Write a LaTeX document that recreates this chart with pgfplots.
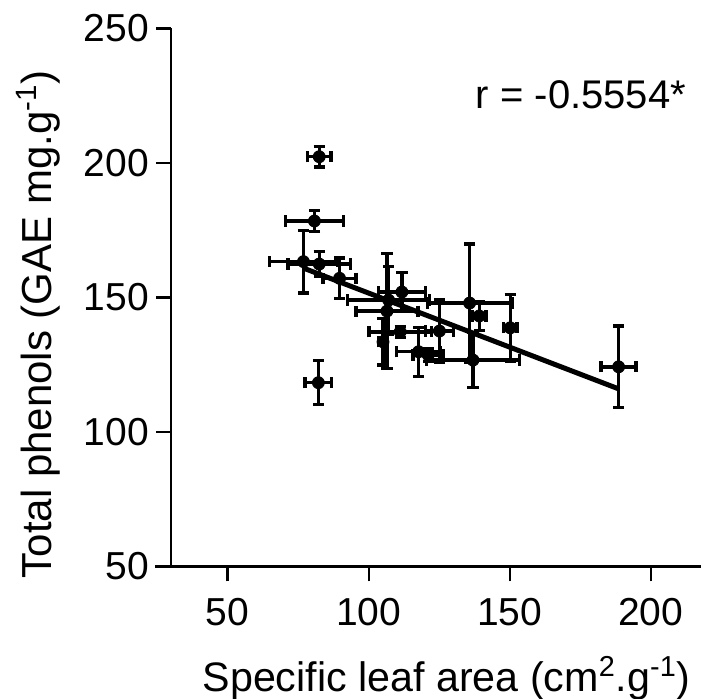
\documentclass[border=0pt]{standalone}
\usepackage{pgfplots}
\pgfplotsset{compat=1.18}
\usepackage{pgfplotstable}
\usepackage{fontspec}
\setmainfont{Liberation Sans}

\pgfplotstableread{
x y ex ey
82.5 202.3 4.1 3.8
80.8 178.4 10.2 4.0
76.9 163.3 12.0 11.6
82.5 162.4 11.0 4.6
89.7 157.1 5.9 7.5
82.2 118.3 4.7 8.2
107.1 149.0 14.5 12.6
111.8 152.0 8.3 7.2
106.5 144.9 11.0 21.4
111.2 137.2 11.0 2.0
105.1 133.5 1.5 8.6
125.1 137.5 5.0 11.8
117.7 129.8 7.8 9.1
121.1 128.6 5.3 2.5
135.8 147.9 15.0 22.0
139.2 143.1 2.4 5.4
137.0 126.7 16.4 10.3
150.2 138.7 2.4 12.3
188.6 124.2 6.2 15.1
}\datatable

\begin{document}
\begin{tikzpicture}
\begin{axis}[
  scale only axis, width=264.95pt, height=269pt,
  xmin=30, xmax=217.8, ymin=50, ymax=250,
  axis x line*=bottom, axis y line*=left,
  axis line style={line width=1.1pt, black},
  x axis line style={shorten <=-7.9pt},
  tick style={line width=1.1pt, black},
  major tick length=7.5pt, tick align=outside,
  xtick={50,100,150,200}, ytick={50,100,150,200,250},
  ticklabel style={font=\fontsize{19.5}{22}\selectfont},
  xticklabel style={yshift=-5pt},
  /pgf/number format/assume math mode=true,
  xlabel={Specific leaf area (cm\textsuperscript{2}.g\textsuperscript{-1})},
  ylabel={Total phenols (GAE mg.g\textsuperscript{-1})},
  xlabel style={font=\fontsize{20.6}{24}\selectfont, at={(axis description cs:0.52,-0.232)}, anchor=base},
  ylabel style={font=\fontsize{21}{24}\selectfont, at={(axis description cs:-0.225,0.45)}, anchor=base},
  clip=false,
]
\addplot[black, line width=2.5pt] coordinates {(76.9,160.9) (188.6,116.0)};
\addplot[black, only marks, mark=*, mark size=3pt,
  error bars/.cd, x dir=both, x explicit, y dir=both, y explicit,
  error bar style={line width=1.7pt, black},
  error mark options={line width=1.7pt, mark size=2.8pt, black, rotate=90}]
  table[x=x, y=y, x error=ex, y error=ey] {\datatable};
\node[anchor=base east, font=\fontsize{20}{23}\selectfont] at (axis description cs:0.985,0.852) {r = -0.5554*};
\coordinate (O) at (rel axis cs:0,0);
\end{axis}
\pgfresetboundingbox
\path (O) ++(-85.55pt,-65.8pt) rectangle ++(350.5pt,349pt);
\end{tikzpicture}
\end{document}
